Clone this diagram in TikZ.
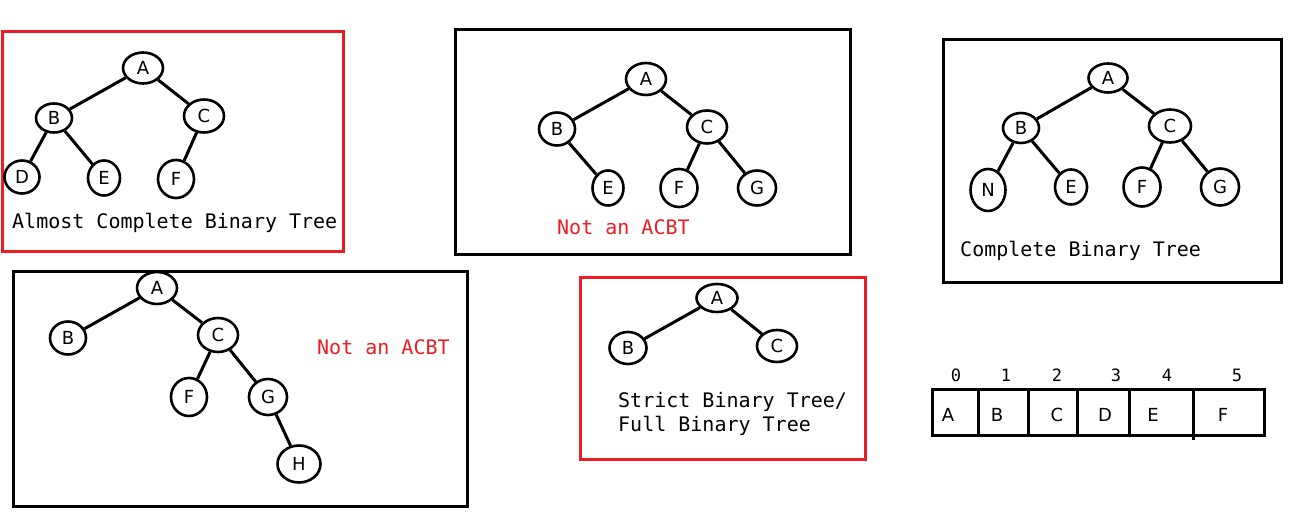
\documentclass[tikz,border=0pt]{standalone}
\usepackage{fontspec}
\setmainfont{DejaVu Sans}
\setmonofont{DejaVu Sans Mono}
\usetikzlibrary{shapes.geometric}
\definecolor{paintred}{RGB}{237,28,36}
\tikzset{vtx/.style 2 args = {draw, ellipse, line width = 2.6, inner sep = 0,
                               minimum width = #1, minimum height = #2,
                               font = \fontsize{18}{20}\selectfont}}
\tikzset{edge/.style = {line width = 3}}
\tikzset{panel/.style = {line width = 3}}
\tikzset{caption/.style = {anchor = base west, inner sep = 0,
                           font = \fontsize{20}{24}\ttfamily}}

\begin{document}
\begin{tikzpicture}[x=1pt, y=-1pt]
    \useasboundingbox (0, 0) rectangle (1298, 518);

    % almost complete binary tree
    \draw [panel, paintred] (2, 32) rectangle (343, 252);
    \node [vtx={40}{31}] (a1) at (143, 68) {A};
    \node [vtx={36}{29}] (b1) at (54, 118) {B};
    \node [vtx={40}{33}] (c1) at (204, 116) {C};
    \node [vtx={35}{33}] (d1) at (22, 177) {D};
    \node [vtx={32}{35}] (e1) at (104, 178) {E};
    \node [vtx={36}{38}] (f1) at (176, 179) {F};
    \draw [edge] (a1) -- (b1);
    \draw [edge] (a1) -- (c1);
    \draw [edge] (b1) -- (d1);
    \draw [edge] (b1) -- (e1);
    \draw [edge] (c1) -- (f1);
    \node [caption] (t1) at (12, 229) {Almost Complete Binary Tree};

    % B has no left child
    \draw [panel] (455, 30) rectangle (850, 255);
    \node [vtx={40}{32}] (a2) at (646, 79) {A};
    \node [vtx={36}{33}] (b2) at (557, 129) {B};
    \node [vtx={40}{33}] (c2) at (707, 127) {C};
    \node [vtx={31}{35}] (e2) at (608, 188) {E};
    \node [vtx={37}{38}] (f2) at (679, 188) {F};
    \node [vtx={38}{35}] (g2) at (757, 188) {G};
    \draw [edge] (a2) -- (b2);
    \draw [edge] (a2) -- (c2);
    \draw [edge] (b2) -- (e2);
    \draw [edge] (c2) -- (f2);
    \draw [edge] (c2) -- (g2);
    \node [caption, text=paintred] (t2) at (557, 235) {Not an ACBT};

    % complete binary tree
    \draw [panel] (943, 40) rectangle (1281, 283);
    \node [vtx={39}{29}] (a3) at (1108, 78) {A};
    \node [vtx={36}{30}] (b3) at (1021, 128) {B};
    \node [vtx={42}{33}] (c3) at (1170, 126) {C};
    \node [vtx={35}{42}] (n3) at (988, 190) {N};
    \node [vtx={32}{35}] (e3) at (1071, 187) {E};
    \node [vtx={37}{39}] (f3) at (1142, 187) {F};
    \node [vtx={38}{37}] (g3) at (1220, 187) {G};
    \draw [edge] (a3) -- (b3);
    \draw [edge] (a3) -- (c3);
    \draw [edge] (b3) -- (n3);
    \draw [edge] (b3) -- (e3);
    \draw [edge] (c3) -- (f3);
    \draw [edge] (c3) -- (g3);
    \node [caption] (t3) at (960, 257) {Complete Binary Tree};

    % skewed to the right
    \draw [panel] (13, 272) rectangle (467, 506);
    \node [vtx={40}{32}] (a4) at (157, 288) {A};
    \node [vtx={36}{33}] (b4) at (68, 338) {B};
    \node [vtx={40}{34}] (c4) at (218, 335) {C};
    \node [vtx={36}{38}] (f4) at (189, 397) {F};
    \node [vtx={38}{36}] (g4) at (268, 397) {G};
    \node [vtx={43}{37}] (h4) at (299, 464) {H};
    \draw [edge] (a4) -- (b4);
    \draw [edge] (a4) -- (c4);
    \draw [edge] (c4) -- (f4);
    \draw [edge] (c4) -- (g4);
    \draw [edge] (g4) -- (h4);
    \node [caption, text=paintred] (t4) at (317, 355) {Not an ACBT};

    % strict / full binary tree
    \draw [panel, paintred] (580, 278) rectangle (865, 459);
    \node [vtx={41}{28}] (a5) at (717, 298) {A};
    \node [vtx={37}{32}] (b5) at (628, 348) {B};
    \node [vtx={40}{32}] (c5) at (777, 346) {C};
    \draw [edge] (a5) -- (b5);
    \draw [edge] (a5) -- (c5);
    \node [caption] (t5) at (618, 407) {Strict Binary Tree/};
    \node [caption] (t6) at (618, 431) {Full Binary Tree};

    % array form
    \draw [panel] (932, 389) rectangle (1264, 435);
    \foreach \x in {978, 1028, 1077, 1129}
        \draw [edge] (\x, 389) -- (\x, 435);
    \draw [edge] (1193, 389) -- (1193, 440);
    \foreach \x/\c [count=\i from 0] in {948/A, 997/B, 1057/C, 1105/D, 1153/E, 1223/F}
        \node [font=\fontsize{18}{20}\selectfont] (cell\i) at (\x, 415) {\c};
    \foreach \x [count=\i from 0] in {956, 1006, 1057, 1116, 1167, 1237}
        \node [font=\fontsize{17}{20}\ttfamily] (idx\i) at (\x, 375) {\i};
\end{tikzpicture}
\end{document}
